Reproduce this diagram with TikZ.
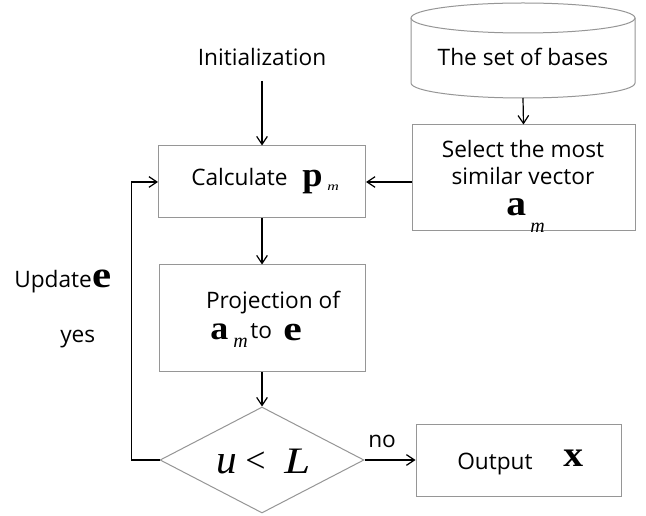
\documentclass[tikz,border=0pt]{standalone}
\usepackage{fontspec}
\setmainfont{Open Sans}
\newfontfamily\tfont{Liberation Serif}
\usetikzlibrary{arrows.meta,shapes.geometric}
\definecolor{boxgray}{RGB}{150,150,150}
% bold serif vector letter: #1 horizontal stretch, #2 size, #3 letter
\newcommand{\bvec}[3]{\scalebox{#1}[1]{\tfont\bfseries\fontsize{#2}{#2}\selectfont #3}}
\newcommand{\subm}[1]{{\tfont\itshape\fontsize{#1}{#1}\selectfont m}}
\begin{document}
\begin{tikzpicture}[x=0.75pt,y=-0.75pt, font=\fontsize{17}{20}\selectfont,
  box/.style={draw=boxgray, line width=0.75pt, rectangle, inner sep=0},
  arr/.style={draw=black, line width=0.9pt, -{Straight Barb[length=6pt,width=8pt]}},
  txt/.style={inner sep=0, anchor=base},
  txtw/.style={inner sep=0, anchor=base west},
  sym/.style={inner sep=0, anchor=base west, text height=13pt, text depth=0pt}]
\useasboundingbox (0,0) rectangle (646,516);
\fill[white] (0,0) rectangle (646,516);

% database cylinder
\draw[boxgray, line width=0.75pt] (411,18) -- (411,83)
  arc[start angle=180, end angle=360, x radius=84pt, y radius=11.25pt] -- (635,18);
\draw[boxgray, line width=0.75pt] (523,18) ellipse [x radius=84pt, y radius=11.25pt];
\node[txt] (bases) at (523,66) {The set of bases};
\coordinate (cylbot) at (523,98);

% boxes
\node[box, minimum width=167.25pt, minimum height=79.5pt] (sel) at (523.5,178) {};
\node[box, minimum width=155.25pt, minimum height=54pt] (calc) at (262,182) {};
\node[box, minimum width=154.5pt, minimum height=80.25pt] (proj) at (262,318.5) {};
\node[box, minimum width=153.75pt, minimum height=54pt] (out) at (518.5,460) {};
\node[diamond, draw=boxgray, line width=0.75pt, inner sep=0, minimum width=153pt, minimum height=79.5pt] (dia) at (262,460) {};

% texts
\node[txt] (init) at (262,66) {Initialization};
\coordinate (initend) at (262,81);

\node[txt] (sel1) at (523,158) {Select the most};
\node[txt] (sel2) at (523,185) {similar vector};
\node[sym] (sela) at (506,216) {\bvec{1.1}{27}{a}};
\node[sym] (selm) at (530,233) {\subm{15}};

\node[txtw] (calctxt) at (191,186) {Calculate};
\node[sym] (calcp) at (302,187) {\bvec{1.05}{26}{p}};
\node[sym] (calcm) at (327,191) {\scalebox{1}[0.75]{\subm{12}}};

\node[txt] (proj1) at (273,309) {Projection of};
\node[sym] (proja) at (210,340) {\bvec{1.08}{25}{a}};
\node[sym] (projm) at (233,348) {\subm{15}};
\node[txtw] (projto) at (250,339) {to};
\node[sym] (proje) at (283,341) {\bvec{1.2}{26}{e}};

\node[sym] (condu) at (216,473) {{\tfont\itshape\fontsize{31}{31}\selectfont u}};
\node[sym] (condlt) at (245,472) {{\tfont\fontsize{27}{27}\selectfont <}};
\node[sym] (condL) at (284,473) {\scalebox{1.25}[1]{\tfont\itshape\fontsize{28}{28}\selectfont L}};

\node[txtw] (outtxt) at (457,469) {Output};
\node[sym] (outx) at (563,466) {\bvec{1.1}{27}{x}};

\node[txtw] (no) at (368,447) {no};
\node[txtw] (upd) at (14,288) {Update};
\node[sym] (upde) at (92,288) {\bvec{1.15}{28}{e}};
\node[txtw] (yes) at (60,343) {yes};

% connectors
\draw[arr] (cylbot) -- (sel.north);
\draw[arr] (initend) -- (calc.north);
\draw[arr] (sel.west |- calc.east) -- (calc.east);
\draw[arr] (calc.south) -- (proj.north);
\draw[arr] (proj.south) -- (dia.north);
\draw[arr] (dia.east) -- (out.west);
\draw[arr] (dia.west) -- ++(-28,0) |- (calc.west);
\end{tikzpicture}
\end{document}
